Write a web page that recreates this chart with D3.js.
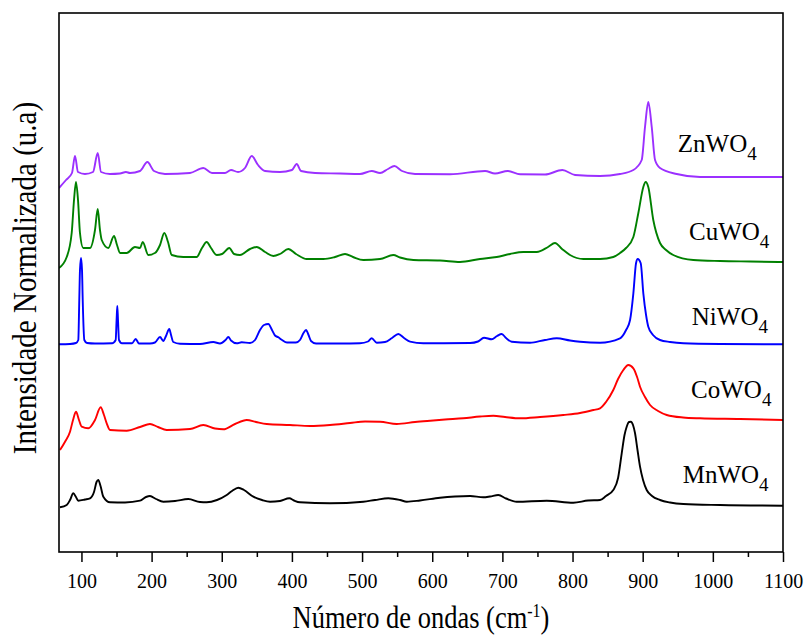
<!DOCTYPE html>
<html>
<head>
<meta charset="utf-8">
<script src="https://cdn.jsdelivr.net/npm/d3@7/dist/d3.min.js"></script>
<style>
  html, body { margin: 0; padding: 0; background: #ffffff; }
  text { font-family: "Liberation Serif", "Times New Roman", serif; fill: #000; }
</style>
</head>
<body>
<svg id="chart" width="809" height="637"></svg>
<script>
// ---------------- DATA (wavenumber cm^-1, normalized intensity with offsets, a.u.) ----------------
const seriesNames = ["MnWO", "CoWO", "NiWO", "CuWO", "ZnWO"];
const majorTicks = [100, 200, 300, 400, 500, 600, 700, 800, 900, 1000, 1100];
const minorTicks = [150, 250, 350, 450, 550, 650, 750, 850, 950, 1050];

const znwo4 = [[68,3.64],[78,3.72],[86.5,3.79],[90.8,3.96],[95.1,3.80],[105,3.78],[116.5,3.80],[123.2,3.99],[127.9,3.80],[140.7,3.78],[155,3.785],[163.5,3.80],[169.2,3.79],[183.5,3.81],[194,3.90],[203.4,3.81],[219.1,3.78],[254.7,3.79],[273.7,3.84],[286.1,3.79],[304.6,3.79],[313.2,3.82],[323.2,3.80],[333.1,3.84],[342.7,3.96],[351.7,3.87],[361.7,3.81],[383,3.80],[400.1,3.82],[406.8,3.88],[413,3.81],[433,3.79],[468.6,3.785],[497,3.78],[513.8,3.81],[525.6,3.79],[537,3.83],[546,3.86],[557,3.81],[575.5,3.78],[625.4,3.777],[675.3,3.81],[689.5,3.785],[707.6,3.81],[725.2,3.777],[760.8,3.775],[785.5,3.82],[803.6,3.77],[839.2,3.76],[867.7,3.78],[886.7,3.82],[898.6,3.92],[903.3,4.25],[908,4.50],[912.9,4.25],[917.6,3.92],[924.7,3.84],[948.5,3.78],[981.7,3.75],[1100,3.75]];

const cuwo4 = [[68,2.84],[79,2.95],[86.1,3.19],[89.4,3.52],[92.2,3.70],[95.1,3.52],[97.9,3.19],[102.6,3.04],[112.2,3.04],[119.3,3.22],[123.2,3.43],[126.4,3.22],[128.9,3.12],[138.3,3.04],[146.4,3.16],[150.7,3.07],[155,2.99],[164.5,2.99],[176.3,3.05],[183.5,3.04],[187.3,3.10],[195.3,2.97],[204.8,2.99],[212,3.07],[218.1,3.19],[223.4,3.10],[228.7,2.97],[245.2,2.95],[264.3,2.95],[271.8,3.04],[278.5,3.10],[284.7,3.04],[292.8,2.97],[300.4,2.98],[310.8,3.04],[317.5,2.98],[326,2.97],[340.3,3.03],[349.8,3.05],[361.7,3.00],[373.5,2.96],[383,2.98],[394.9,3.03],[405.8,2.98],[421.1,2.93],[444.8,2.93],[461.4,2.95],[475.7,2.98],[487.1,2.95],[501.8,2.92],[525.6,2.93],[544.5,2.97],[554.1,2.945],[573.1,2.92],[611.1,2.915],[639.6,2.90],[668.1,2.93],[691.9,2.95],[710.9,2.98],[729.9,3.00],[749,3.00],[765.1,3.05],[775,3.09],[785,3.03],[796.4,2.97],[815.4,2.93],[839.2,2.93],[858.1,2.95],[867.7,2.99],[876.3,3.04],[886.7,3.15],[893.8,3.39],[900.9,3.65],[904.3,3.70],[908,3.65],[915.1,3.32],[924.7,3.09],[933.3,3.02],[943.6,2.97],[972.2,2.92],[1010.3,2.91],[1053,2.905],[1100,2.90]];

const niwo4 = [[68,2.077],[83.7,2.08],[92.2,2.09],[95.5,2.12],[96.9,2.52],[97.9,2.82],[99.4,2.94],[100.8,2.82],[101.8,2.52],[104.1,2.12],[107.9,2.09],[119.3,2.085],[143.6,2.087],[148.8,2.12],[150.1,2.32],[151.1,2.46],[152.1,2.32],[153.5,2.12],[157.8,2.087],[172.1,2.087],[177.3,2.13],[182,2.085],[197.7,2.085],[204.8,2.095],[212,2.15],[216.7,2.11],[220.5,2.16],[225.2,2.23],[227.7,2.17],[230.9,2.10],[240.5,2.083],[269,2.08],[288,2.10],[297.5,2.085],[305.3,2.12],[309.4,2.15],[313.2,2.115],[321.3,2.087],[328.4,2.097],[340.3,2.09],[347.4,2.12],[354.5,2.22],[360.2,2.27],[366.4,2.28],[371.6,2.22],[375.9,2.165],[380.6,2.147],[385.9,2.12],[393,2.095],[405.8,2.095],[411.5,2.12],[416.5,2.19],[420.1,2.22],[423.7,2.17],[427.2,2.11],[434.4,2.085],[468.6,2.085],[497,2.087],[508.5,2.105],[513.8,2.137],[520.9,2.093],[532.7,2.10],[542.7,2.14],[551.7,2.18],[559.8,2.14],[568.4,2.103],[587.3,2.087],[653.9,2.09],[665.3,2.105],[673.8,2.143],[684.8,2.127],[692.4,2.16],[699.1,2.18],[705.2,2.14],[713.3,2.103],[739.4,2.093],[760.8,2.12],[777.5,2.137],[796.4,2.115],[810.7,2.103],[839.2,2.093],[867.7,2.137],[876.3,2.22],[882,2.32],[886.7,2.587],[890.5,2.887],[892.9,2.93],[897.2,2.887],[900.9,2.587],[904.8,2.37],[908,2.253],[914.7,2.17],[924.7,2.12],[939,2.10],[958,2.087],[1010.3,2.08],[1100,2.077]];

const cowo4 = [[69.4,1.02],[76.6,1.103],[83.7,1.203],[88,1.32],[92.2,1.403],[96.5,1.32],[100.4,1.253],[109.8,1.237],[119.3,1.32],[127.4,1.447],[132.1,1.37],[136,1.287],[140.7,1.22],[164.5,1.213],[183.5,1.25],[197.7,1.28],[209.1,1.25],[221.5,1.22],[254.7,1.23],[273.7,1.27],[290.4,1.235],[302.2,1.227],[318.9,1.28],[335.6,1.32],[348.8,1.30],[364.1,1.28],[397.3,1.27],[425.8,1.26],[454.3,1.27],[482.8,1.29],[504.2,1.305],[525.6,1.303],[549.4,1.28],[575.5,1.30],[596.9,1.313],[618.2,1.325],[644.3,1.337],[668.1,1.355],[687.1,1.363],[703.8,1.35],[725.2,1.337],[753.7,1.35],[786.8,1.37],[810.7,1.39],[829.7,1.42],[839.2,1.437],[847.7,1.50],[858.1,1.62],[864.9,1.73],[872.4,1.82],[879.5,1.87],[886.7,1.837],[892,1.75],[896.2,1.653],[903.3,1.55],[910.5,1.47],[921.9,1.41],[934.3,1.37],[957.5,1.345],[981.7,1.337],[1038.8,1.33],[1100,1.32]];

const mnwo4 = [[69.4,0.447],[79,0.47],[83.7,0.52],[88.4,0.587],[92.2,0.55],[95.5,0.513],[105,0.525],[112.2,0.537],[117.9,0.60],[121.5,0.70],[124,0.72],[127.2,0.66],[131.2,0.553],[140.7,0.497],[162.1,0.495],[183.5,0.513],[192,0.55],[197.7,0.56],[206.3,0.53],[216.7,0.503],[233.4,0.51],[252.3,0.53],[269,0.50],[278.5,0.497],[293.2,0.52],[307.1,0.57],[314.6,0.61],[323.6,0.643],[331.7,0.62],[345,0.553],[357.4,0.52],[368.8,0.503],[383,0.51],[396.3,0.537],[403,0.515],[411.5,0.497],[454.3,0.487],[501.8,0.503],[518.5,0.52],[537.4,0.537],[554.1,0.52],[563.7,0.503],[582.6,0.515],[611.1,0.543],[632.5,0.555],[653.9,0.56],[672.8,0.547],[682.4,0.555],[694.2,0.57],[705.2,0.535],[720.4,0.503],[763.2,0.513],[801.1,0.493],[822.1,0.515],[839.2,0.52],[847.7,0.56],[858.1,0.62],[864.9,0.74],[870.1,0.987],[874.1,1.17],[877.2,1.253],[880.5,1.30],[883.2,1.303],[886.2,1.27],[889.1,1.187],[892.6,1.02],[896.2,0.853],[900.5,0.72],[905.7,0.62],[913.3,0.56],[924.7,0.52],[939,0.495],[958,0.48],[1010.3,0.47],[1100,0.463]];

const seriesData = [mnwo4, cowo4, niwo4, cuwo4, znwo4];
const seriesColors = ["#000000", "#ff0000", "#0000ff", "#008000", "#9b30ff"];
// label anchor positions expressed in data units (wavenumber, intensity)
const labelX = [957, 969, 970, 966, 950];
const labelY = [0.693, 1.537, 2.27, 3.12, 4.003];

// ---------------- LAYOUT ----------------
const svg = d3.select("#chart");
const margin = { left: 59, right: 26, top: 13, bottom: 85 };
const W = 809, H = 637;
const x = d3.scaleLinear().domain([68, 1100]).range([margin.left, W - margin.right]);
const y = d3.scaleLinear().domain([0, 5.39]).range([H - margin.bottom, margin.top]);

svg.append("rect").attr("width", W).attr("height", H).attr("fill", "#ffffff");

svg.append("clipPath").attr("id", "clip")
  .append("rect")
  .attr("x", x.range()[0]).attr("y", y.range()[1])
  .attr("width", x.range()[1] - x.range()[0])
  .attr("height", y.range()[0] - y.range()[1]);

const line = d3.line()
  .x(d => x(d[0]))
  .y(d => y(d[1]))
  .curve(d3.curveMonotoneX);

const g = svg.append("g").attr("clip-path", "url(#clip)");
seriesData.forEach((s, i) => {
  g.append("path")
    .datum(s)
    .attr("d", line)
    .attr("fill", "none")
    .attr("stroke", seriesColors[i])
    .attr("stroke-width", 1.9)
    .attr("stroke-linejoin", "round");
});

// frame
svg.append("rect")
  .attr("x", x.range()[0]).attr("y", y.range()[1])
  .attr("width", x.range()[1] - x.range()[0])
  .attr("height", y.range()[0] - y.range()[1])
  .attr("fill", "none").attr("stroke", "#000").attr("stroke-width", 1.6);

// axes
const axisY0 = y.range()[0];
const major = svg.append("g").attr("transform", `translate(0,${axisY0})`)
  .call(d3.axisBottom(x).tickValues(majorTicks).tickSize(10).tickFormat(d3.format("d")));
major.select(".domain").remove();
major.selectAll(".tick line").attr("stroke", "#000").attr("stroke-width", 1.5);
major.selectAll(".tick text")
  .attr("y", null).attr("dy", null)
  .attr("transform", "translate(0,36) scale(1,1.1)")
  .attr("text-anchor", "middle")
  .style("font-family", "'Liberation Serif', 'Times New Roman', serif")
  .style("font-size", "20px")
  .attr("fill", "#000");

const minor = svg.append("g").attr("transform", `translate(0,${axisY0})`)
  .call(d3.axisBottom(x).tickValues(minorTicks).tickSize(5).tickFormat(""));
minor.select(".domain").remove();
minor.selectAll(".tick line").attr("stroke", "#000").attr("stroke-width", 1.5);

// x-axis title
const xt = svg.append("text")
  .attr("transform", "translate(421,628) scale(1,1.18)")
  .attr("text-anchor", "middle")
  .style("font-size", "26.5px");
xt.append("tspan").text("Número de ondas (cm");
xt.append("tspan").attr("dy", -9).style("font-size", "16px").text("-1");
xt.append("tspan").attr("dy", 9).text(")");

// y-axis title
svg.append("text")
  .attr("transform", "translate(36,278) rotate(-90) scale(0.88,1)")
  .attr("text-anchor", "middle")
  .style("font-size", "33px")
  .text("Intensidade Normalizada (u.a)");

// series labels
seriesNames.forEach((n, i) => {
  const t = svg.append("text")
    .attr("x", x(labelX[i]))
    .attr("y", y(labelY[i]))
    .style("font-size", "25px");
  t.append("tspan").text(n);
  t.append("tspan").attr("dy", 8).style("font-size", "19px").text("4");
});
</script>
</body>
</html>
